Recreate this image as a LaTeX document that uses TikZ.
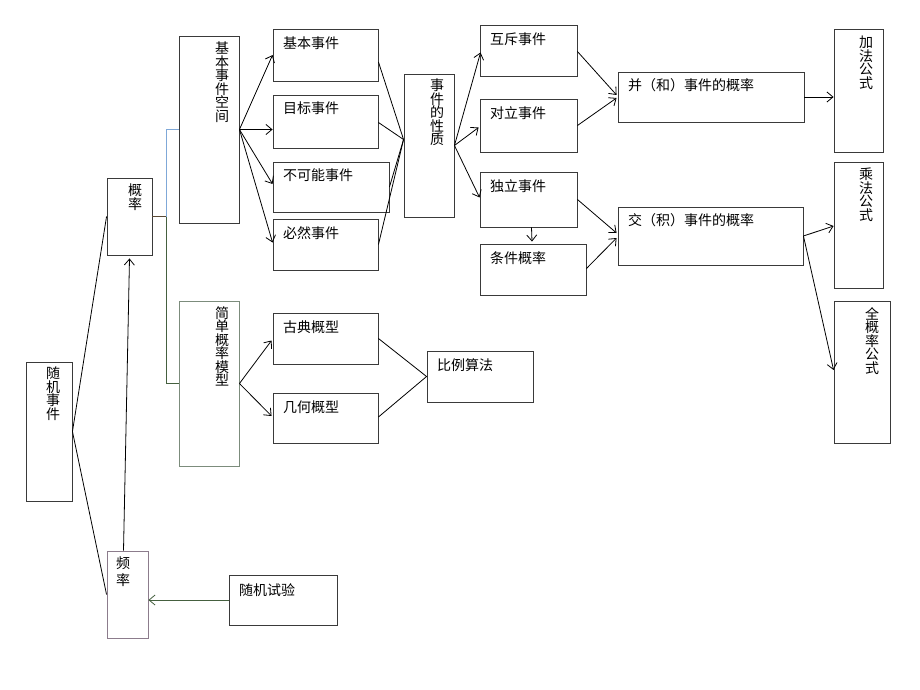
\documentclass[tikz,border=0pt]{standalone}
\usepackage{fontspec}
\setmainfont{Noto Sans CJK SC}
\usetikzlibrary{arrows.meta,calc}
\definecolor{boxgray}{HTML}{3A3A3A}
\definecolor{purpgray}{HTML}{8C7C8C}
\definecolor{greengray}{HTML}{7C8C7C}
\definecolor{brlink}{HTML}{5A4A35}
\definecolor{bllink}{HTML}{7FA8D8}
\definecolor{grlink}{HTML}{45603F}
\tikzset{
  box/.style={draw=boxgray, line width=0.9pt, inner sep=0pt, rectangle},
  hlab/.style={anchor=west, inner sep=0pt, font=\fontsize{14}{14}\selectfont},
  vlab/.style={anchor=north, inner sep=0pt, align=center, font=\fontsize{14}{13.5}\selectfont},
  conn/.style={line width=0.8pt, black},
  arr/.style={conn, -{Straight Barb[length=6pt,width=10pt]}},
}
\newcommand{\bx}[6]{\node[box,#6, minimum width=#4pt, minimum height=#5pt] (#1) at (#2,#3) {};}
\begin{document}
\begin{tikzpicture}[x=1pt,y=-1pt]
\useasboundingbox (0,0) rectangle (920,690);
\fill[white] (0,0) rectangle (920,690);
% boxes: name, centre x, centre y, width, height
\bx{sj}{49}{431.5}{46}{139}{}
\bx{gl}{129.5}{216.5}{45}{77}{}
\bx{pl}{127.5}{594.5}{41}{87}{draw=purpgray}
\bx{sy}{283}{600}{108}{50}{}
\bx{jbk}{209}{129.5}{60}{187}{}
\bx{jm}{209}{383.5}{60}{165}{draw=greengray}
\bx{jb}{325.5}{55}{105}{52}{}
\bx{mb}{325.5}{121.5}{105}{53}{}
\bx{bk}{331}{187}{116}{50}{}
\bx{bi}{325.5}{244.5}{105}{51}{}
\bx{gd}{325.5}{338.5}{105}{51}{}
\bx{jh}{325.5}{418}{105}{50}{}
\bx{bl}{480}{376.5}{106}{51}{}
\bx{xz}{429}{145.5}{50}{143}{}
\bx{hc}{528.5}{50.5}{97}{51}{}
\bx{dl}{528.5}{125.5}{97}{53}{}
\bx{dld}{528.5}{199.5}{97}{55}{}
\bx{tj}{533}{269.5}{106}{51}{}
\bx{bing}{711}{97}{186}{50}{}
\bx{jiao}{710.5}{236}{185}{58}{}
\bx{jf}{858.5}{90.5}{49}{123}{}
\bx{cf}{858.5}{225}{49}{126}{}
\bx{qgl}{862}{372}{56}{142}{}
% labels
\node[vlab] (tsj) at (53,367) {随\\机\\事\\件};
\node[vlab] (tgl) at (135,184) {概\\率};
\node[vlab, font=\fontsize{14}{17}\selectfont] (tpl) at (123,557) {频\\率};
\node[hlab] (tsy) at (239,590) {随机试验};
\node[vlab] (tjbk) at (222,42) {基\\本\\事\\件\\空\\间};
\node[vlab] (tjm) at (222,306) {简\\单\\概\\率\\模\\型};
\node[hlab] (tjb) at (283,43) {基本事件};
\node[hlab] (tmb) at (283,108) {目标事件};
\node[hlab] (tbk) at (283,175) {不可能事件};
\node[hlab] (tbi) at (283,233) {必然事件};
\node[hlab] (tgd) at (283,327) {古典概型};
\node[hlab] (tjh) at (283,407) {几何概型};
\node[hlab] (tbl) at (437,365) {比例算法};
\node[vlab] (txz) at (437,79) {事\\件\\的\\性\\质};
\node[hlab] (thc) at (490,39) {互斥事件};
\node[hlab] (tdl) at (490,113) {对立事件};
\node[hlab] (tdld) at (490,186) {独立事件};
\node[hlab] (ttj) at (490,258) {条件概率};
\node[hlab] (tbing) at (628,85) {并（和）事件的概率};
\node[hlab] (tjiao) at (628,220) {交（积）事件的概率};
\node[vlab] (tjf) at (866,36) {加\\法\\公\\式};
\node[vlab] (tcf) at (866,168) {乘\\法\\公\\式};
\node[vlab] (tqgl) at (872,307) {全\\概\\率\\公\\式};
% connectors
\draw[conn] (gl.west) -- (sj.east) -- (pl.west);
\draw[arr] ($(pl.north)+(-4,0)$) -- ($(gl.south)+(0,3)$);
\draw[arr, grlink] (sy.west) -- (sy.west -| pl.east);
\draw[conn, brlink] (gl.east) -- ++(14,0) coordinate (brk);
\draw[conn, bllink] (brk) |- (jbk.west);
\draw[conn, grlink] (brk) |- (jm.west);
\draw[arr] (jbk.east) -- (jb.west);
\draw[arr] (jbk.east) -- (jbk.east -| mb.west);
\draw[arr] (jbk.east) -- ($(bk.west)+(0,-3)$);
\draw[arr] (jbk.east) -- ($(bi.west)+(0,-2)$);
\draw[conn] ($(jb.east)+(0,7)$) -- ($(xz.west)+(0,-6)$);
\draw[conn] ($(mb.east)+(0,1)$) -- ($(xz.west)+(0,-6)$);
\draw[conn] (bk.east) -- ($(xz.west)+(0,-6)$);
\draw[conn] (bi.east) -- ($(xz.west)+(0,-6)$);
\draw[arr] (xz.east) -- ($(hc.west)+(1,2)$);
\draw[arr] (xz.east) -- ($(dl.west)+(-1,2)$);
\draw[arr] (xz.east) -- ($(dld.west)+(0,-2)$);
\draw[arr] ($(dld.south)+(3,0)$) -- ($(tj.north)+(-1,-2)$);
\draw[arr] ($(hc.east)+(0,1)$) -- ($(bing.west)+(-1,-2)$);
\draw[arr] (dl.east) -- ($(bing.west)+(-1,1)$);
\draw[arr] (dld.east) -- ($(jiao.west)+(-1,-3)$);
\draw[arr] ($(tj.east)+(0,-1)$) -- ($(jiao.west)+(-1,2)$);
\draw[arr] (bing.east) -- (bing.east -| jf.west);
\draw[arr] (jiao.east) -- ($(cf.west)+(0,1)$);
\draw[arr] (jiao.east) -- ($(qgl.west)+(0,-2)$);
\draw[arr] (jm.east) -- ($(gd.west)+(-1,2)$);
\draw[arr] (jm.east) -- ($(jh.west)+(-1,-2)$);
\draw[conn] (gd.east) -- (bl.west) -- ($(jh.east)+(0,-1)$);
\end{tikzpicture}
\end{document}
